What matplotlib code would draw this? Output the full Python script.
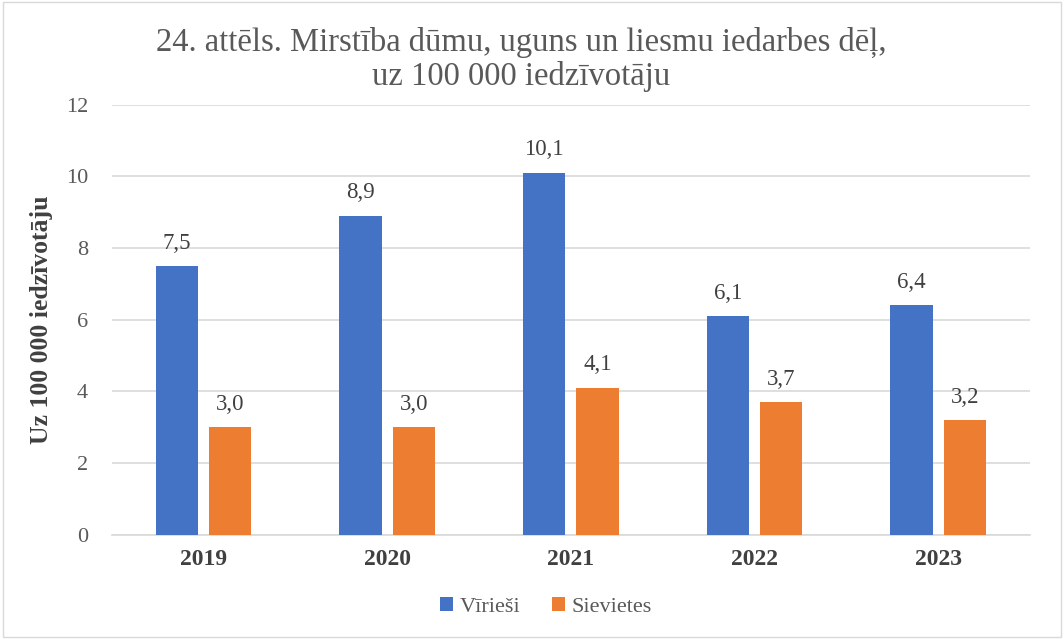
import numpy as np
import matplotlib
matplotlib.use('Agg')
import matplotlib.pyplot as plt
from matplotlib.patches import Rectangle

plt.rcParams['font.family'] = ['Liberation Serif', 'DejaVu Serif']

years = ['2019', '2020', '2021', '2022', '2023']
virieshi = [7.5, 8.9, 10.1, 6.1, 6.4]
sievietes = [3.0, 3.0, 4.1, 3.7, 3.2]

blue = '#4472C4'
orange = '#ED7D31'

fig = plt.figure(figsize=(10.64, 6.39), dpi=100)
ax = fig.add_axes([0.105, 0.163, 0.863, 0.673])

x = np.arange(len(years))
w = 0.23
b1 = ax.bar(x - 0.145, virieshi, w, color=blue, label='Vīrieši', zorder=3)
b2 = ax.bar(x + 0.145, sievietes, w, color=orange, label='Sievietes', zorder=3)

for bars, vals in ((b1, virieshi), (b2, sievietes)):
    for r, v in zip(bars, vals):
        ax.annotate(f'{v:.1f}'.replace('.', ','), (r.get_x() + r.get_width() / 2, v),
                    xytext=(0, 9), textcoords='offset points', ha='center', va='bottom',
                    fontsize=16.5, color='#404040')

ax.set_ylim(0, 12)
ax.set_xlim(-0.5, len(years) - 0.5)
ax.set_yticks(range(0, 13, 2))
ax.set_xticks(x)
ax.set_xticklabels(years, fontsize=17, fontweight='bold', color='#404040')
ax.tick_params(axis='y', labelsize=16, labelcolor='#595959', length=0, pad=17)
ax.tick_params(axis='x', length=0, pad=10)
ax.yaxis.grid(True, color='#D9D9D9', linewidth=1.2, zorder=0)
ax.set_axisbelow(True)
for s in ['top', 'right', 'left']:
    ax.spines[s].set_visible(False)
ax.spines['bottom'].set_color('#D9D9D9')
ax.spines['bottom'].set_linewidth(1.2)

ax.set_ylabel('Uz 100 000 iedzīvotāju', fontsize=18.5, fontweight='bold', color='#404040', labelpad=9)

fig.text(0.49, 0.958, '24. attēls. Mirstība dūmu, uguns un liesmu iedarbes dēļ,\nuz 100 000 iedzīvotāju',
         ha='center', va='top', fontsize=23.5, color='#595959', linespacing=1.12)

fig.legend(handles=[b1, b2], loc='center', bbox_to_anchor=(0.513, 0.05), ncol=2, frameon=False,
           prop={'family': 'Liberation Serif', 'size': 16}, labelcolor='#595959',
           handlelength=0.6, handleheight=0.6, handletextpad=0.3, columnspacing=1.4)

fig.patches.append(Rectangle((0.003, 0.003), 0.994, 0.994, transform=fig.transFigure,
                             fill=False, edgecolor='#D9D9D9', linewidth=1))

fig.savefig('out.png', dpi=100)
